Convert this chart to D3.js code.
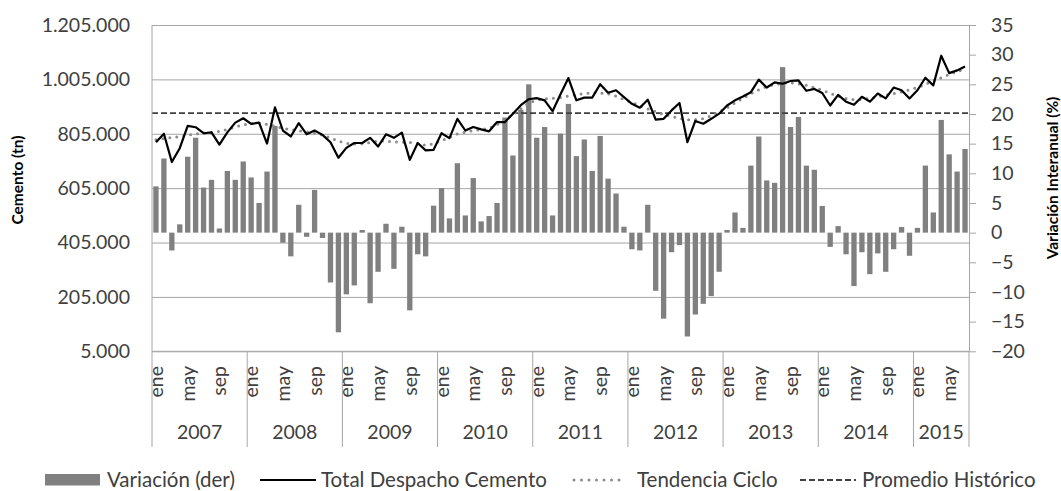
<!DOCTYPE html>
<html>
<head>
<meta charset="utf-8">
<script src="https://cdn.jsdelivr.net/npm/d3@7"></script>
<style>
body { margin: 0; background: #fff; }
svg { display: block; font-family: Lato, "Open Sans", sans-serif; }
</style>
</head>
<body>
<div id="chart"></div>
<script>
// monthly data, ene 2007 - jul 2015
var years = ["2007", "2008", "2009", "2010", "2011", "2012", "2013", "2014", "2015"];
var monthNames = ["ene", "feb", "mar", "abr", "may", "jun", "jul", "ago", "sep", "oct", "nov", "dic"];
var shownMonths = ["ene", "may", "sep"];

// Total Despacho Cemento (tn)
var despacho = [
  774000, 805000, 701000, 752000, 834000, 829000, 807000, 810000, 765000, 810000, 846000, 862000,
  841000, 846000, 769000, 902000, 817000, 795000, 844000, 803000, 817000, 801000, 774000, 717000,
  753000, 771000, 771000, 790000, 758000, 803000, 790000, 809000, 709000, 771000, 744000, 746000,
  807000, 789000, 860000, 817000, 830000, 821000, 814000, 848000, 848000, 879000, 910000, 932000,
  936000, 928000, 888000, 950000, 1010000, 928000, 938000, 938000, 987000, 956000, 965000, 940000,
  915000, 901000, 930000, 857000, 860000, 891000, 918000, 774000, 852000, 842000, 860000, 879000,
  909000, 928000, 942000, 958000, 1004000, 975000, 994000, 989000, 999000, 1001000, 963000, 970000,
  955000, 909000, 948000, 923000, 912000, 941000, 923000, 953000, 935000, 975000, 965000, 935000,
  965000, 1011000, 983000, 1092000, 1028000, 1038000, 1052000
];

// Tendencia Ciclo (tn)
var tendencia = [
  783000, 787000, 791000, 795000, 800000, 804000, 807000, 810000, 814000, 821000, 830000, 838000,
  843000, 844000, 840000, 833000, 825000, 820000, 816000, 812000, 807000, 800000, 790000, 778000,
  770000, 767000, 768000, 773000, 778000, 778000, 775000, 774000, 773000, 768000, 763000, 768000,
  780000, 792000, 804000, 811000, 817000, 820000, 825000, 838000, 856000, 876000, 897000, 918000,
  930000, 934000, 935000, 938000, 944000, 949000, 953000, 956000, 955000, 952000, 943000, 931000,
  920000, 909000, 897000, 886000, 876000, 869000, 862000, 857000, 857000, 861000, 871000, 885000,
  901000, 918000, 935000, 952000, 967000, 979000, 986000, 990000, 992000, 989000, 983000, 975000,
  965000, 954000, 943000, 935000, 930000, 931000, 935000, 941000, 947000, 953000, 959000, 967000,
  975000, 987000, 999000, 1011000, 1023000, 1034000, 1044000
];

// Variacion interanual (%)
var variacion = [
  7.8, 12.5, -3.0, 1.4, 12.8, 16.0, 7.6, 8.9, 0.7, 10.4, 8.9, 12.0,
  9.3, 5.0, 10.3, 18.0, -1.7, -4.0, 4.7, -0.7, 7.2, -0.9, -8.4, -16.8,
  -10.4, -8.9, 0.45, -11.9, -6.6, 1.5, -6.1, 1.0, -13.1, -3.65, -4.0, 4.55,
  7.5, 2.4, 11.7, 2.9, 9.2, 1.9, 2.8, 5.0, 19.4, 13.0, 20.7, 25.0,
  16.0, 17.8, 2.9, 16.7, 21.7, 12.9, 15.7, 10.4, 16.3, 9.1, 6.6, 1.0,
  -2.8, -3.0, 4.7, -9.8, -14.5, -3.3, -2.1, -17.5, -13.8, -12.0, -10.7, -6.6,
  0.45, 3.4, 0.8, 11.3, 16.2, 8.8, 8.4, 27.9, 17.8, 19.5, 11.3, 10.6,
  4.5, -2.4, 1.1, -3.65, -9.0, -3.3, -7.0, -3.5, -6.6, -2.8, 0.95, -3.9,
  0.8, 11.3, 3.4, 19.0, 13.2, 10.3, 14.1
];

var promedio = 881000;

var leftTicks = [5000, 205000, 405000, 605000, 805000, 1005000, 1205000];
var rightTicks = [-20, -15, -10, -5, 0, 5, 10, 15, 20, 25, 30, 35];
var seriesNames = ["Variación (der)", "Total Despacho Cemento", "Tendencia Ciclo", "Promedio Histórico"];

var W = 1061, H = 491;
var plot = {left: 152, right: 969, top: 25, bottom: 351.3};
var labelColor = "#404040", gridColor = "#a6a6a6";
var trendColor = "#8c8c8c";

// category list: one entry per month
var cats = [];
years.forEach(function(y) {
  monthNames.forEach(function(m) {
    if (cats.length < despacho.length) cats.push({year: y, month: m});
  });
});

var svg = d3.select("#chart").append("svg")
  .attr("width", W)
  .attr("height", H);

var x = d3.scaleBand()
  .domain(d3.range(cats.length))
  .range([plot.left, plot.right])
  .paddingInner(0.33)
  .paddingOuter(0.165);
var step = x.step();
function monthStart(i) { return plot.left + i * step; }

var yL = d3.scaleLinear().domain([5000, 1205000]).range([plot.bottom, plot.top]);
var yR = d3.scaleLinear().domain([-20, 35]).range([plot.bottom, plot.top]);

var es = d3.formatLocale({decimal: ",", thousands: ".", grouping: [3], currency: ["$", ""]});
var fmt = es.format(",d");

// left axis + gridlines
var gL = svg.append("g")
  .attr("transform", "translate(" + plot.left + ",0)")
  .call(d3.axisLeft(yL).tickValues(leftTicks).tickFormat(fmt)
    .tickSizeInner(-(plot.right - plot.left)).tickSizeOuter(0).tickPadding(22));
gL.select(".domain").remove();
gL.selectAll(".tick line").attr("stroke", gridColor).attr("stroke-width", 1);
gL.selectAll(".tick text")
  .attr("fill", labelColor)
  .style("font-size", "19.5px")
  .style("font-family", "Lato, sans-serif");

// bars (right axis)
svg.append("g").selectAll("rect")
  .data(variacion)
  .enter().append("rect")
  .attr("x", function(d, i) { return x(i); })
  .attr("width", x.bandwidth())
  .attr("y", function(d) { return yR(Math.max(d, 0)); })
  .attr("height", function(d) { return Math.abs(yR(d) - yR(0)); })
  .attr("fill", "#808080");

// promedio historico
svg.append("line")
  .attr("x1", plot.left).attr("x2", plot.right)
  .attr("y1", yL(promedio)).attr("y2", yL(promedio))
  .attr("stroke", "#404040")
  .attr("stroke-width", 1.8)
  .attr("stroke-dasharray", "6,3");

var xc = function(d, i) { return x(i) + x.bandwidth() / 2; };

// tendencia ciclo
svg.append("path")
  .datum(tendencia)
  .attr("fill", "none")
  .attr("stroke", trendColor)
  .attr("stroke-width", 3)
  .attr("stroke-linecap", "round")
  .attr("stroke-dasharray", "0,7")
  .attr("d", d3.line().x(xc).y(function(d) { return yL(d); }));

// total despacho
svg.append("path")
  .datum(despacho)
  .attr("fill", "none")
  .attr("stroke", "#000")
  .attr("stroke-width", 2.2)
  .attr("stroke-linejoin", "round")
  .attr("d", d3.line().x(xc).y(function(d) { return yL(d); }));

// right axis
var gR = svg.append("g")
  .attr("transform", "translate(" + plot.right + ",0)")
  .call(d3.axisRight(yR).tickValues(rightTicks).tickSizeInner(7).tickSizeOuter(0).tickPadding(15));
gR.select(".domain").attr("stroke", gridColor);
gR.selectAll(".tick line").attr("stroke", gridColor);
gR.selectAll(".tick text")
  .attr("fill", labelColor)
  .style("font-size", "19.5px")
  .style("font-family", "Lato, sans-serif");

// category axis: lines
var axisBottom = 447;
var gX = svg.append("g");
gX.append("line")
  .attr("x1", plot.left).attr("x2", plot.right)
  .attr("y1", plot.bottom).attr("y2", plot.bottom)
  .attr("stroke", gridColor);
gX.append("line")
  .attr("x1", plot.left).attr("x2", plot.left)
  .attr("y1", plot.top).attr("y2", axisBottom)
  .attr("stroke", gridColor);

var yearStarts = [];
cats.forEach(function(c, i) { if (c.month === "ene") yearStarts.push(i); });
yearStarts.push(cats.length);

gX.selectAll(".sep")
  .data(yearStarts.slice(1))
  .enter().append("line")
  .attr("x1", function(i) { return monthStart(i); })
  .attr("x2", function(i) { return monthStart(i); })
  .attr("y1", plot.bottom).attr("y2", axisBottom)
  .attr("stroke", gridColor);

gX.selectAll(".month")
  .data(cats.map(function(c, i) { return {c: c, i: i}; })
    .filter(function(d) { return shownMonths.indexOf(d.c.month) >= 0; }))
  .enter().append("text")
  .attr("transform", function(d) {
    return "translate(" + (x(d.i) + x.bandwidth() / 2) + ",366) rotate(-90)";
  })
  .attr("text-anchor", "end")
  .attr("dy", "0.36em")
  .attr("fill", labelColor)
  .style("font-size", "19.5px")
  .text(function(d) { return d.c.month; });

gX.selectAll(".year")
  .data(years)
  .enter().append("text")
  .attr("x", function(y, k) { return (monthStart(yearStarts[k]) + monthStart(yearStarts[k + 1])) / 2; })
  .attr("y", 439)
  .attr("text-anchor", "middle")
  .attr("fill", labelColor)
  .style("font-size", "19.5px")
  .text(function(y) { return y; });

// axis titles
svg.append("text")
  .attr("transform", "translate(18,180) rotate(-90)")
  .attr("text-anchor", "middle")
  .attr("dy", "0.35em")
  .style("font-size", "15.5px")
  .style("font-weight", "bold")
  .text("Cemento (tn)");

svg.append("text")
  .attr("transform", "translate(1053,178) rotate(-90)")
  .attr("text-anchor", "middle")
  .attr("dy", "0.35em")
  .style("font-size", "15.5px")
  .style("font-weight", "bold")
  .text("Variación Interanual (%)");

// legend: symbol start / text start for each entry
var legY = 480;
var legSymX = [45, 260, 572, 800];
var legTextX = [107, 321, 637, 862];
var lg = svg.append("g");
seriesNames.forEach(function(name, k) {
  var sx = legSymX[k];
  if (k === 0) {
    lg.append("rect").attr("x", sx).attr("y", legY - 6).attr("width", 55).attr("height", 11.5).attr("fill", "#808080");
  } else {
    var ln = lg.append("line")
      .attr("x1", sx).attr("x2", sx + 56)
      .attr("y1", legY).attr("y2", legY);
    if (k === 1) ln.attr("stroke", "#000").attr("stroke-width", 2.2);
    if (k === 2) ln.attr("stroke", trendColor).attr("stroke-width", 3).attr("stroke-linecap", "round").attr("stroke-dasharray", "0,7.5").attr("x1", sx + 2).attr("x2", sx + 52);
    if (k === 3) ln.attr("stroke", "#404040").attr("stroke-width", 1.8).attr("stroke-dasharray", "6,3");
  }
  lg.append("text")
    .attr("x", legTextX[k]).attr("y", legY)
    .attr("dy", "0.35em")
    .attr("fill", labelColor)
    .style("font-size", "20.5px")
    .text(name);
});
</script>
</body>
</html>
